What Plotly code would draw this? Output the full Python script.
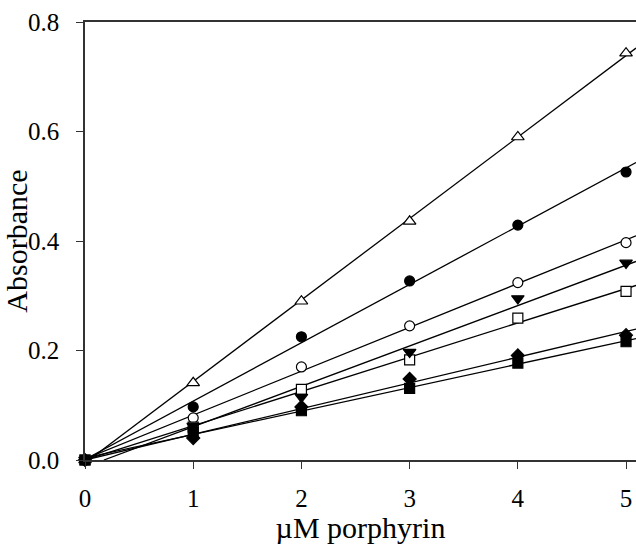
import numpy as np
import plotly.graph_objects as go

conc = [0, 1, 2, 3, 4, 5]

open_triangle = [0, 0.141, 0.290, 0.436, 0.590, 0.743]
filled_circle = [0, 0.097, 0.225, 0.327, 0.429, 0.526]
open_circle = [0, 0.077, 0.170, 0.245, 0.324, 0.397]
filled_down_triangle = [0, 0.062, 0.115, 0.197, 0.295, 0.360]
open_square = [0, 0.060, 0.129, 0.183, 0.259, 0.308]
filled_diamond = [0, 0.040, 0.097, 0.148, 0.191, 0.228]
filled_square = [0, 0.051, 0.090, 0.131, 0.177, 0.216]

# (values, symbol, fill colour)
series = [
    (open_triangle, "triangle-up", "white"),
    (filled_circle, "circle", "black"),
    (open_circle, "circle", "white"),
    (filled_down_triangle, "triangle-down", "black"),
    (open_square, "square", "white"),
    (filled_diamond, "diamond", "black"),
    (filled_square, "square", "black"),
]

x_max = 5.092
fig = go.Figure()

# regression lines
for vals, sym, fill in series:
    slope, icpt = np.polyfit(conc, vals, 1)
    x0 = 0.0 if icpt >= 0 else -icpt / slope
    xs = [x0, x_max]
    ys = [slope * x0 + icpt, slope * x_max + icpt]
    fig.add_trace(go.Scatter(x=xs, y=ys, mode="lines",
                             line=dict(color="black", width=1.3),
                             showlegend=False, hoverinfo="skip"))

# markers (filled ones drawn last so they sit on top at the origin)
order = [0, 2, 4, 1, 3, 5, 6]
for i in order:
    vals, sym, fill = series[i]
    fig.add_trace(go.Scatter(x=conc, y=vals, mode="markers", cliponaxis=False,
                             marker=dict(symbol=sym, size=11 if "triangle" in sym else 10,
                                         color=fill,
                                         line=dict(color="black", width=1.2)),
                             showlegend=False))

fam = "Liberation Serif, Times New Roman, serif"

fig.update_layout(
    width=636, height=544,
    margin=dict(l=85, r=0, t=22, b=84),
    paper_bgcolor="white", plot_bgcolor="white",
    showlegend=False,
    font=dict(family=fam, color="black"),
)
fig.update_xaxes(
    range=[0, x_max], tickvals=[0, 1, 2, 3, 4, 5], ticktext=["0", "1", "2", "3", "4", "5"],
    showgrid=False, zeroline=False, automargin=False,
    showline=True, linecolor="#333", linewidth=1.5, mirror=True,
    ticks="outside", ticklen=7, tickcolor="#333", tickwidth=1.2,
    ticklabelstandoff=8,
    tickfont=dict(size=25, family=fam),
    title=dict(text="µM porphyrin", font=dict(size=30, family=fam), standoff=4),
)
fig.update_yaxes(
    range=[0, 0.8], tickvals=[0, 0.2, 0.4, 0.6, 0.8],
    ticktext=["0.0", "0.2", "0.4", "0.6", "0.8"],
    showgrid=False, zeroline=False, automargin=False,
    showline=True, linecolor="#333", linewidth=1.5,
    ticks="outside", ticklen=7, tickcolor="#333", tickwidth=1.2,
    ticklabelstandoff=12,
    tickfont=dict(size=25, family=fam),
    title=dict(text="Absorbance", font=dict(size=30, family=fam), standoff=0),
)

fig.write_html("out.html",
               config={"displayModeBar": False},
               post_script="document.body.style.margin='0px';document.body.style.overflow='hidden';")
